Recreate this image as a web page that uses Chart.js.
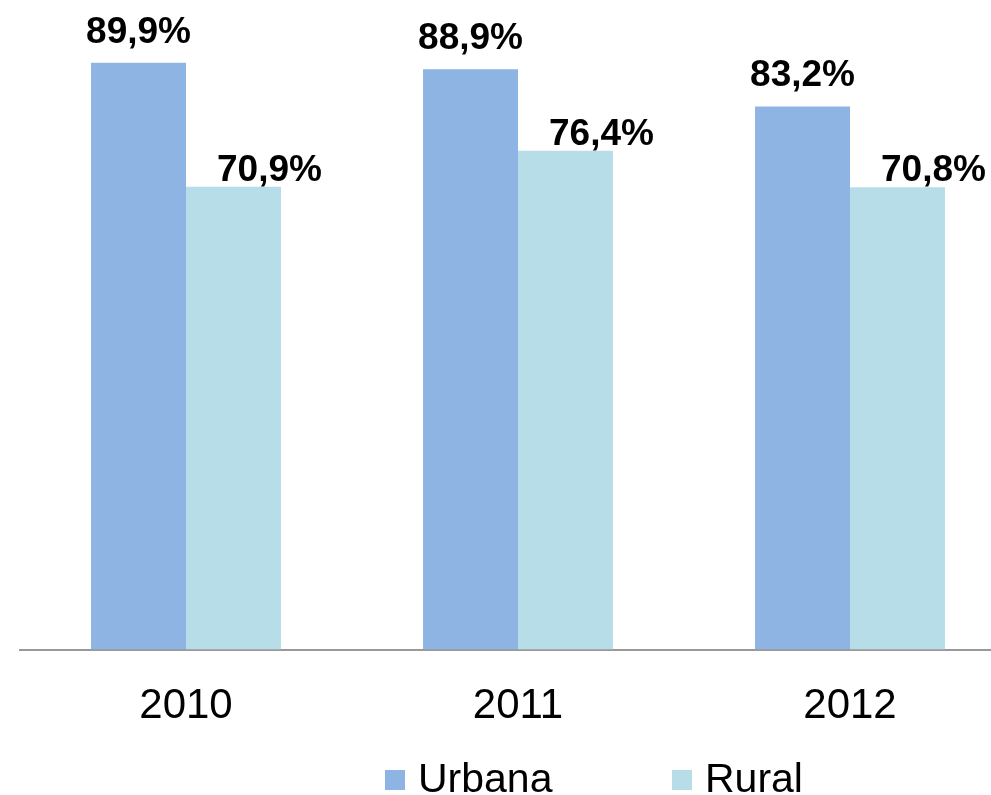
<!DOCTYPE html>
<html>
<head>
<meta charset="utf-8">
<script src="https://cdn.jsdelivr.net/npm/chart.js@4"></script>
<style>
  html, body { margin: 0; padding: 0; background: #fff; overflow: hidden; }
  #wrap { position: absolute; left: 0; top: 0; width: 1020px; height: 795px; }
  #legend { position: absolute; left: 385px; top: 754px; font-family: "Liberation Sans", Arial, sans-serif; font-size: 41px; color: #000; }
  .item { position: absolute; top: 0; white-space: nowrap; line-height: 48px; }
  .box { display: inline-block; width: 20px; height: 20px; margin-right: 13px; vertical-align: 2px; }
</style>
</head>
<body>
<div id="wrap"><canvas id="chart"></canvas></div>
<div id="legend"></div>
<script>
var years = ['2010', '2011', '2012']
var urbana = [89.9, 88.9, 83.2]
var rural = [70.9, 76.4, 70.8]
var seriesNames = ['Urbana', 'Rural']
var seriesColors = ['#8EB4E3', '#B7DDE8']
var fontName = '"Liberation Sans", Arial, sans-serif'
var visibleWidth = 991

// label offsets per series: dx to the right, dy above the bar top
var labelOffsets = [[0, 20], [36, 6]]

function formatValue(v) {
    return v.toFixed(1).replace('.', ',') + '%'
}

var valueLabels = {
    id: 'valueLabels',
    afterDatasetsDraw: function (chart) {
        var ctx = chart.ctx
        ctx.save()
        ctx.font = 'bold 37px ' + fontName
        ctx.fillStyle = '#000'
        ctx.textAlign = 'center'
        ctx.textBaseline = 'alphabetic'
        chart.data.datasets.forEach(function (ds, i) {
            chart.getDatasetMeta(i).data.forEach(function (bar, j) {
                var text = formatValue(ds.data[j])
                var w = ctx.measureText(text).width
                var x = bar.x + labelOffsets[i][0]
                if (x + w / 2 > visibleWidth - 1) {
                    x = visibleWidth - 1 - w / 2
                }
                ctx.fillText(text, x, bar.y - labelOffsets[i][1])
            })
        })
        ctx.restore()
    }
}

new Chart(document.getElementById('chart'), {
    type: 'bar',
    data: {
        labels: years,
        datasets: [
            { label: seriesNames[0], data: urbana, backgroundColor: seriesColors[0] },
            { label: seriesNames[1], data: rural, backgroundColor: seriesColors[1] }
        ]
    },
    options: {
        responsive: true,
        maintainAspectRatio: false,
        animation: false,
        layout: { padding: { left: 20, right: 4, top: 0, bottom: 31 } },
        datasets: { bar: { categoryPercentage: 0.572, barPercentage: 1 } },
        plugins: {
            legend: { display: false },
            tooltip: { enabled: false }
        },
        scales: {
            x: {
                grid: { display: false, drawTicks: false },
                border: { display: true, color: '#999999', width: 2 },
                ticks: { color: '#000', font: { family: fontName, size: 42 }, padding: 32 }
            },
            y: {
                display: false,
                min: 0,
                max: 99.5
            }
        }
    },
    plugins: [valueLabels]
})

var legend = document.getElementById('legend')
var lefts = [0, 287]
seriesNames.forEach(function (name, i) {
    var item = document.createElement('div')
    item.className = 'item'
    item.style.left = lefts[i] + 'px'
    item.innerHTML = '<span class="box" style="background:' + seriesColors[i] + '"></span>' + name
    legend.appendChild(item)
})
</script>
</body>
</html>
